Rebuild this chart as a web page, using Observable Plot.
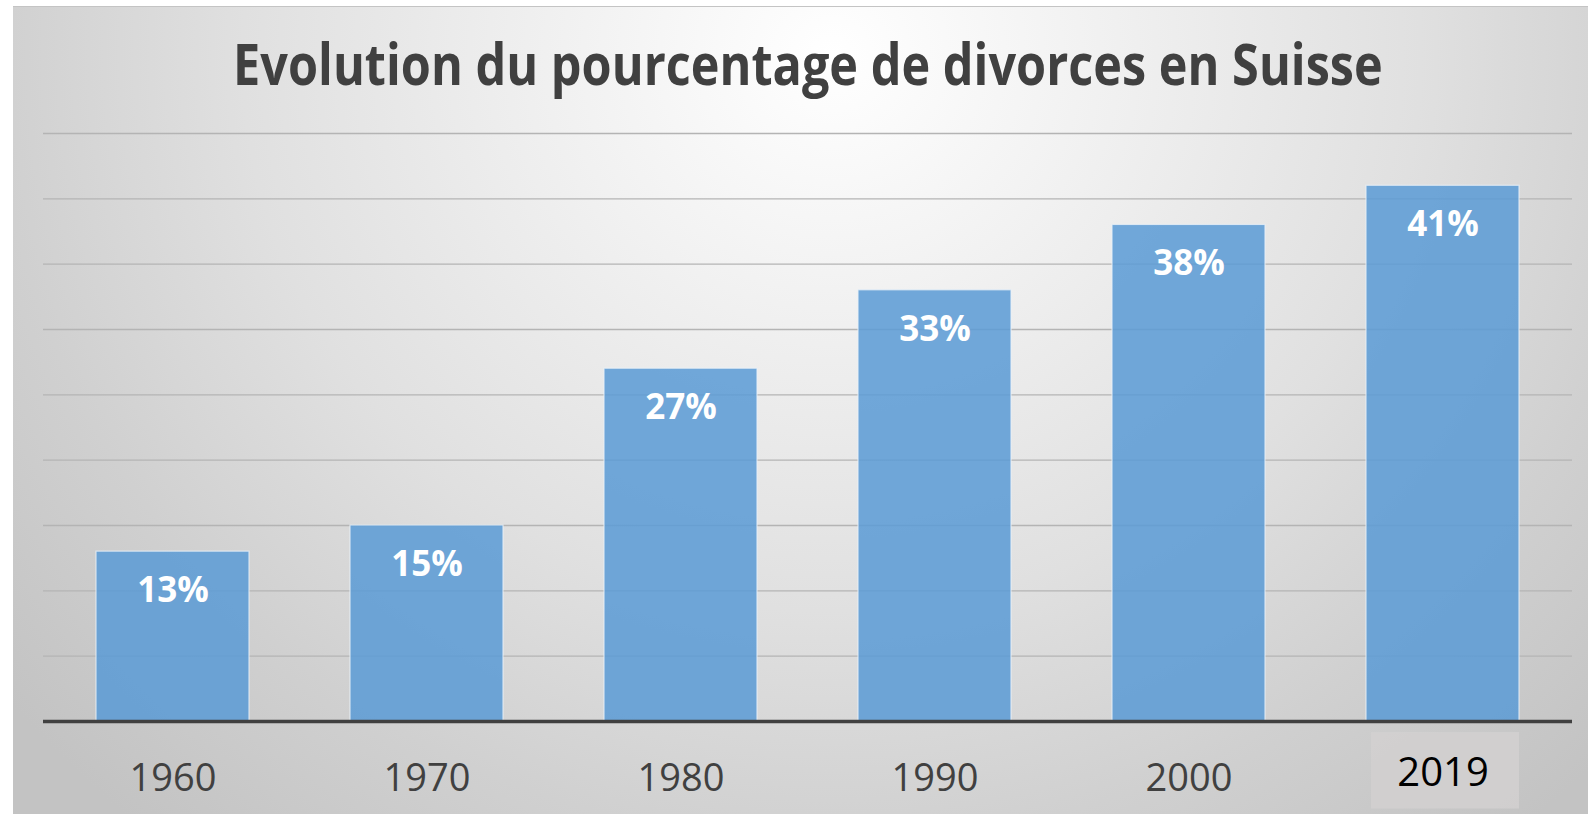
<!DOCTYPE html>
<html>
<head>
<meta charset="utf-8">
<script src="https://cdn.jsdelivr.net/npm/d3@7"></script>
<script src="https://cdn.jsdelivr.net/npm/@observablehq/plot@0.6"></script>
<style>
  html, body { margin: 0; padding: 0; background: #ffffff; width: 1588px; height: 814px; overflow: hidden; }
  #frame {
    position: absolute; left: 13px; top: 6px; width: 1575px; height: 808px;
    border-top: 1px solid #c4c4c4;
    background: radial-gradient(ellipse 68% 125% at 52% 6%, #ffffff 0%, #f1f1f1 25%, #e0e0e0 55%, #d0d0d0 78%, #c3c3c3 100%);
    font-family: "Open Sans", sans-serif;
  }
  #title {
    position: absolute; left: 0; top: 18px; width: 1590px; text-align: center;
    font-size: 57px; font-weight: 700; color: #404040; line-height: 76px; white-space: nowrap;
  }
  #title span { display: inline-block; transform: scaleX(0.853); transform-origin: center; }
  #chart { position: absolute; left: 0; top: 103px; }
</style>
</head>
<body>
<div id="frame">
  <div id="title"><span>Evolution du pourcentage de divorces en Suisse</span></div>
  <div id="chart"></div>
</div>
<script>
const years = ["1960", "1970", "1980", "1990", "2000", "2019"];
const values = [13, 15, 27, 33, 38, 41];
const labels = ["13%", "15%", "27%", "33%", "38%", "41%"];
const gridTicks = [5, 10, 15, 20, 25, 30, 35, 40, 45];
const highlightYear = "2019";

const data = years.map((y, i) => ({year: y, value: values[i], label: labels[i]}));
const normalYears = years.filter(y => y !== highlightYear);

const chart = Plot.plot({
  width: 1575,
  height: 704,
  marginTop: 23,
  marginBottom: 93,
  marginLeft: 30,
  marginRight: 16,
  style: {background: "transparent", fontFamily: "Open Sans, sans-serif", overflow: "visible"},
  x: {domain: years, paddingInner: 0.397, paddingOuter: 0.1985, axis: null},
  y: {domain: [0, 45], axis: null},
  marks: [
    Plot.ruleY(gridTicks, {stroke: "#b4b4b4", strokeWidth: 1.3}),
    Plot.barY([highlightYear], {x: d => d, y1: -0.85, y2: -6.7, fill: "#d2d0d0", fillOpacity: 0.85, insetLeft: 5, insetRight: 0}),
    Plot.barY(data, {x: "year", y: "value", fill: "#5b9bd5", fillOpacity: 0.86, stroke: "#e8f0f8", strokeOpacity: 0.8, strokeWidth: 1.2}),
    Plot.ruleY([0], {stroke: "#404040", strokeWidth: 3.5}),
    Plot.text(data, {x: "year", y: "value", text: "label", dy: 39, fill: "white", fontSize: 35, fontWeight: 700, lineAnchor: "middle"}),
    Plot.text(normalYears, {x: d => d, frameAnchor: "bottom", dy: 57, text: d => d, fill: "#404040", fontSize: 38, lineAnchor: "middle"}),
    Plot.text([highlightYear], {x: d => d, frameAnchor: "bottom", dy: 52, text: d => d, fill: "#000000", fontSize: 40, lineAnchor: "middle"})
  ]
});
document.getElementById("chart").appendChild(chart);
</script>
</body>
</html>
